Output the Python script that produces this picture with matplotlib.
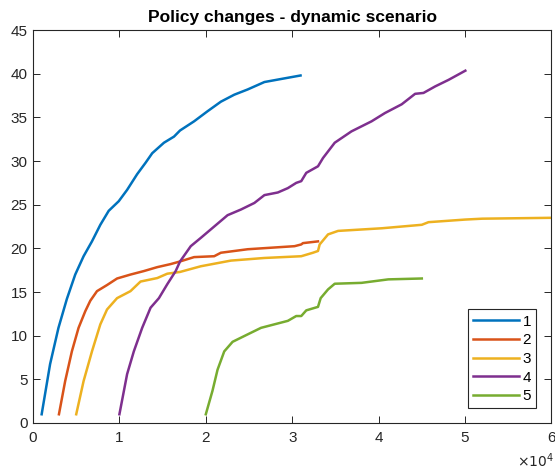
import matplotlib
matplotlib.use("Agg")
import matplotlib.pyplot as plt

plt.rcParams['font.family'] = ['Liberation Sans', 'DejaVu Sans']

# series (x in units of 1, y values)
x1 = [1000, 1977, 2945, 3915, 4884, 5853, 6822, 7791, 8760, 9922, 10891, 12054, 13023,
      13798, 15155, 16318, 17016, 18643, 20194, 21744, 23295, 24845, 26783, 28721, 30965]
y1 = [1.0, 6.75, 10.9, 14.2, 17.0, 19.1, 20.8, 22.7, 24.3, 25.4, 26.7, 28.5, 29.8,
      30.9, 32.1, 32.8, 33.5, 34.55, 35.7, 36.8, 37.6, 38.2, 39.05, 39.4, 39.8]

x2 = [3000, 3721, 4496, 5271, 6047, 6628, 7403, 8566, 9729, 11279, 12829, 14380, 15930,
      17016, 18643, 20969, 21744, 24845, 27946, 30271, 31047, 31240, 32984]
y2 = [1.0, 4.8, 8.2, 10.9, 12.8, 14.0, 15.1, 15.8, 16.55, 17.0, 17.4, 17.85, 18.2,
      18.5, 19.0, 19.1, 19.5, 19.9, 20.1, 20.25, 20.45, 20.6, 20.8]

x3 = [5000, 5853, 6822, 7791, 8566, 9729, 11279, 12442, 14380, 15543, 17016, 19419,
      22907, 26783, 31047, 32403, 32984, 33178, 34147, 35310, 40349, 45000, 45775,
      50039, 52000, 60000]
y3 = [1.0, 4.8, 8.2, 11.3, 13.0, 14.3, 15.1, 16.2, 16.6, 17.1, 17.3, 17.95,
      18.6, 18.9, 19.1, 19.5, 19.7, 20.45, 21.6, 22.0, 22.3, 22.7, 23.0,
      23.3, 23.4, 23.5]

x4 = [10000, 10891, 11667, 12635, 13604, 14573, 15543, 16512, 17016, 18256, 19419,
      20969, 22519, 24070, 25620, 26783, 28333, 29496, 30465, 31047, 31628, 32984,
      33566, 34922, 36860, 39186, 40736, 42674, 44225, 45194, 46550, 48101, 50039]
y4 = [1.0, 5.6, 8.2, 10.9, 13.2, 14.3, 15.9, 17.4, 18.5, 20.25, 21.2,
      22.5, 23.8, 24.45, 25.2, 26.1, 26.4, 26.9, 27.5, 27.7, 28.65, 29.4,
      30.35, 32.1, 33.4, 34.55, 35.5, 36.5, 37.7, 37.8, 38.55, 39.3, 40.35]

x5 = [20000, 20775, 21357, 22132, 23101, 24845, 26395, 28721, 29496, 30465, 31047,
      31628, 32984, 33295, 34147, 34922, 38023, 41124, 45000]
y5 = [1.0, 3.7, 6.1, 8.2, 9.3, 10.15, 10.9, 11.5, 11.7, 12.25, 12.25,
      12.9, 13.3, 14.3, 15.3, 15.95, 16.05, 16.45, 16.55]

labels = ['1', '2', '3', '4', '5']
colors = ['#0072BD', '#D95319', '#EDB120', '#7E2F8E', '#77AC30']

fig = plt.figure(figsize=(5.55, 4.7), dpi=100)
ax = fig.add_axes([0.0595, 0.1, 0.934, 0.836])

for xs, ys, lab, c in zip([x1, x2, x3, x4, x5], [y1, y2, y3, y4, y5], labels, colors):
    ax.plot([v / 1e4 for v in xs], ys, color=c, lw=1.8, label=lab)

ax.set_xlim(0, 6)
ax.set_ylim(0, 45)
ax.set_xticks(range(0, 7))
ax.set_yticks(range(0, 50, 5))

grey = '#262626'
for s in ax.spines.values():
    s.set_color(grey)
    s.set_linewidth(0.8)
ax.tick_params(direction='in', top=True, right=True, length=5, width=0.7,
               colors=grey, labelsize=11, labelcolor=grey)
ax.tick_params(axis='x', pad=6)
ax.tick_params(axis='y', pad=4)

ax.set_title('Policy changes - dynamic scenario', fontsize=12.5, fontweight='bold', pad=6)
ax.text(1.005, -0.097, r'$\times 10^{4}$', transform=ax.transAxes, ha='right', va='center',
        fontsize=10, color=grey, family='DejaVu Sans')

leg = ax.legend(loc='lower right', bbox_to_anchor=(0.971, 0.037), fontsize=11,
                handlelength=3.0, fancybox=False, framealpha=1, edgecolor=grey,
                borderpad=0.35, labelspacing=0.3, handletextpad=0.25, borderaxespad=0)
leg.get_frame().set_linewidth(0.8)

fig.savefig('out.png', dpi=100)
